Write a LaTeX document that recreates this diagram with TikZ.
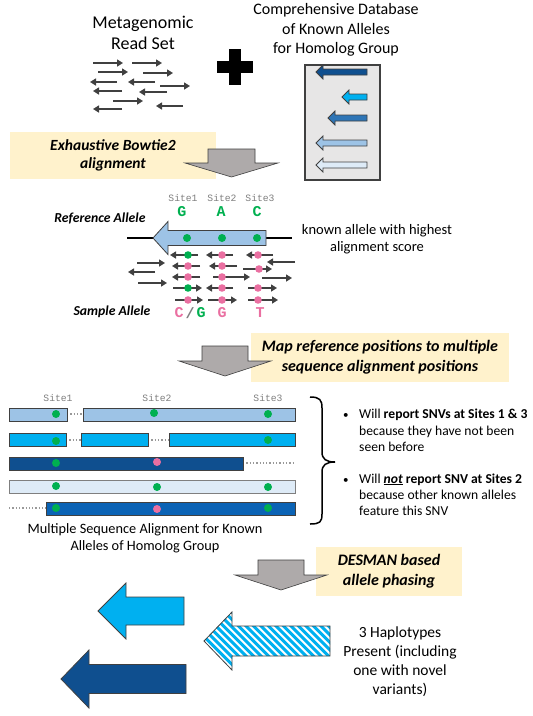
\documentclass[tikz,border=0pt]{standalone}
\usepackage{fontspec}
\setmainfont{Carlito}
\newfontfamily\monofont{Liberation Mono}
\usetikzlibrary{arrows.meta}
\definecolor{dkblue}{HTML}{0F4F8F}
\definecolor{cyanb}{HTML}{00B0F0}
\definecolor{midblue}{HTML}{2E75B6}
\definecolor{ltblue}{HTML}{9DC3E6}
\definecolor{paleblue}{HTML}{DEEBF7}
\definecolor{barblue}{HTML}{0B63B5}
\definecolor{snvgreen}{HTML}{00B050}
\definecolor{snvpink}{HTML}{EA6FA1}
\definecolor{yboxc}{HTML}{FFF2CC}
\definecolor{grayarrow}{HTML}{AEAAAA}
\definecolor{readgray}{HTML}{404040}
\definecolor{sitegray}{HTML}{7F7F7F}
\definecolor{dbgray}{HTML}{E7E6E6}
% left-pointing block arrow: tipx, y, headbase x, tail x, body half, head half, style
\newcommand\lblock[7]{\draw[#7] (#1,#2) -- (#3,#2-#6) -- (#3,#2-#5) -- (#4,#2-#5) -- (#4,#2+#5) -- (#3,#2+#5) -- (#3,#2+#6) -- cycle;}
% down-pointing block arrow: cx, top, headbase, tip, shaft half, head half
\newcommand\dblock[6]{\draw[grayblock] (#1-#5,#2) -- (#1+#5,#2) -- (#1+#5,#3) -- (#1+#6,#3) -- (#1,#4) -- (#1-#6,#3) -- (#1-#5,#3) -- cycle;}
\tikzset{
  read/.style={draw=readgray, line width=1.8pt, -{Triangle[length=6pt,width=7pt]}},
  grayblock/.style={fill=grayarrow, draw=readgray, line width=0.6pt},
  dbarrow/.style={draw=readgray, line width=0.8pt},
  yellowbox/.style={fill=yboxc, inner sep=0pt, align=center, font=\fontsize{15.5}{17.5}\selectfont\bfseries\itshape},
  bar/.style={draw=readgray, line width=0.7pt},
  gapline/.style={draw=sitegray!80, line width=1.3pt, dotted},
  sitelbl/.style={font=\fontsize{9.7}{11}\selectfont\monofont, text=sitegray, inner sep=0pt},
  base/.style={font=\fontsize{15}{17}\selectfont\monofont\bfseries, inner sep=0pt},
  bul/.style={anchor=base west, inner sep=0pt, font=\fontsize{13.6}{16}\selectfont},
}
\begin{document}
\begin{tikzpicture}[x=1pt,y=-1pt]
\useasboundingbox (0,0) rectangle (533,716);
\fill[white] (0,0) rectangle (533,716);

% ---------- top ----------
\node[font=\fontsize{18}{21.7}\selectfont, align=center, inner sep=0pt] (meta) at (143,33) {Metagenomic\\Read Set};
\node[font=\fontsize{16}{19.5}\selectfont, align=center, inner sep=0pt] (dbtitle) at (336,30) {Comprehensive Database\\of Known Alleles\\for Homolog Group};

% plus sign
\fill (217,61) rectangle (253,73);
\fill (229,49) rectangle (241,85);

% reads
\draw[read] (93,63) -- (123,63);
\draw[read] (132,63) -- (162,63);
\draw[read] (98,72) -- (128,72);
\draw[read] (143,73) -- (173,73);
\draw[read] (117,82) -- (90,82);
\draw[read] (155,82) -- (128,82);
\draw[read] (160,86) -- (190,86);
\draw[read] (122,91) -- (93,91);
\draw[read] (167,92) -- (139,92);
\draw[read] (113,101) -- (143,101);
\draw[read] (183,106) -- (156,106);
\draw[read] (122,109) -- (93,109);

% database box
\draw[fill=dbgray, draw=readgray, line width=1.2pt] (305,65) rectangle (380,180);
\lblock{316}{72}{323}{367}{3}{7}{dbarrow, fill=dkblue}
\lblock{342}{97}{349}{367}{3}{7}{dbarrow, fill=cyanb}
\lblock{328}{118}{335}{367}{3}{7}{dbarrow, fill=midblue}
\lblock{316}{143}{323}{367}{3}{7}{dbarrow, fill=ltblue}
\lblock{316}{165}{323}{367}{3}{7}{dbarrow, fill=paleblue}

% step 1
\node[yellowbox, minimum width=206pt, minimum height=47pt] (bowtie) at (113,155.5) {Exhaustive Bowtie2\\alignment};
\dblock{231.5}{149}{163}{177}{23.5}{46.5}

% ---------- alignment of reads ----------
\node[font=\fontsize{13.7}{16}\selectfont\bfseries\itshape, inner sep=0pt] (reflbl) at (100,218) {Reference Allele};
\node[font=\fontsize{13.7}{16}\selectfont\bfseries\itshape, inner sep=0pt] (samplbl) at (112,312) {Sample Allele};

\node[sitelbl] (s1) at (183,198) {Site1};
\node[sitelbl] (s2) at (222,198) {Site2};
\node[sitelbl] (s3) at (260,198) {Site3};
\node[base, text=snvgreen] (rg) at (182,212) {G};
\node[base, text=snvgreen] (ra) at (221,212) {A};
\node[base, text=snvgreen] (rc) at (257,212) {C};

\draw[line width=2pt] (127,238) -- (153,238);
\draw[line width=2pt] (266,238) -- (292,238);
\lblock{153}{238}{168}{266}{7.5}{16.5}{draw=readgray, line width=0.8pt, fill=ltblue}
\fill[snvgreen] (187,238) circle (4);
\fill[snvgreen] (222,238) circle (4);
\fill[snvgreen] (257,238) circle (4);

\node[font=\fontsize{14.5}{17}\selectfont, align=center, inner sep=0pt] (known) at (377,239) {known allele with highest\\alignment score};

% sample reads
\draw[read] (198,255) -- (170,255); \fill[snvgreen] (188,255) circle (3.8);
\draw[read] (233,255) -- (206,255); \fill[snvpink] (222,255) circle (3.8);
\draw[read] (273,255) -- (246,255); \fill[snvpink] (258,255) circle (3.8);
\draw[read] (295,262) -- (267,262);
\draw[read] (200,266) -- (172,266); \fill[snvpink] (188,266) circle (3.8);
\draw[read] (237,266) -- (209,266); \fill[snvpink] (222,266) circle (3.8);
\draw[read] (243,269) -- (272,269); \fill[snvpink] (259,269) circle (3.8);
\draw[read] (200,277) -- (172,277); \fill[snvpink] (188,277) circle (3.8);
\draw[read] (213,277) -- (250,277); \fill[snvpink] (222,277) circle (3.8);
\draw[read] (262,278) -- (292,278);
\draw[read] (173,288) -- (202,288); \fill[snvgreen] (188,288) circle (3.8);
\draw[read] (233,288) -- (206,288); \fill[snvpink] (222,288) circle (3.8);
\draw[read] (248,288) -- (277,288); \fill[snvpink] (258,288) circle (3.8);
\draw[read] (175,300) -- (203,300); \fill[snvpink] (188,300) circle (3.8);
\draw[read] (208,300) -- (237,300); \fill[snvpink] (222,300) circle (3.8);
\draw[read] (248,300) -- (278,300); \fill[snvpink] (258,300) circle (3.8);
\draw[read] (137,263) -- (165,263);
\draw[read] (155,272) -- (128,272);
\draw[read] (138,283) -- (167,283);

\node[base, text=snvpink] (sc) at (179,313) {C};
\node[base, text=sitegray] (sslash) at (190,313) {/};
\node[base, text=snvgreen] (sg1) at (201,313) {G};
\node[base, text=snvpink] (sg2) at (222,313) {G};
\node[base, text=snvpink] (st) at (260,313) {T};

% step 2
\node[yellowbox, font=\fontsize{16}{20}\selectfont\bfseries\itshape, minimum width=258pt, minimum height=49pt] (mapbox) at (380,357.5) {Map reference positions to multiple\\sequence alignment positions};
\dblock{225}{346}{361}{376}{23}{46}

% ---------- MSA ----------
\node[sitelbl] (m1) at (58,398) {Site1};
\node[sitelbl] (m2) at (157,398) {Site2};
\node[sitelbl] (m3) at (268,398) {Site3};

% bar 1
\draw[gapline] (67,414) -- (83,414);
\draw[bar, fill=ltblue] (9,408) rectangle (67,421);
\draw[bar, fill=ltblue] (83,408) rectangle (295,421);
\fill[snvgreen] (56,414) circle (4);
\fill[snvgreen] (154,413) circle (4);
\fill[snvgreen] (268,414) circle (4);
% bar 2
\draw[gapline] (66,440) -- (81,440);
\draw[gapline] (148,440) -- (169,440);
\draw[bar, fill=cyanb] (9,433) rectangle (66,446);
\draw[bar, fill=cyanb] (81,433) rectangle (148,446);
\draw[bar, fill=cyanb] (169,433) rectangle (295,446);
\fill[snvgreen] (56,441) circle (4);
\fill[snvgreen] (268,440) circle (4);
% bar 3
\draw[gapline] (243,463) -- (295,463);
\draw[bar, fill=dkblue] (9,457) rectangle (243,470);
\fill[snvgreen] (56,463) circle (4);
\fill[snvpink] (157,462) circle (4);
% bar 4
\draw[bar, fill=paleblue, draw=sitegray] (9,480) rectangle (295,493);
\fill[snvgreen] (56,486) circle (4);
\fill[snvgreen] (157,487) circle (4);
\fill[snvgreen] (268,487) circle (4);
% bar 5
\draw[gapline] (9,508) -- (46,508);
\draw[bar, fill=barblue] (46,502) rectangle (295,515);
\fill[snvgreen] (56,508) circle (4);
\fill[snvpink] (157,509) circle (4);
\fill[snvgreen] (268,508) circle (4);

\node[font=\fontsize{14.3}{17}\selectfont, align=center, inner sep=0pt] (msacap) at (145,538.5) {Multiple Sequence Alignment for Known\\Alleles of Homolog Group};

% brace
\draw[line width=1.5pt] (310,397) .. controls (320,397) and (322,400) .. (322,408) -- (322,452)
  .. controls (322,459) and (326,462) .. (335,462)
  .. controls (326,462) and (322,465) .. (322,472) -- (322,514)
  .. controls (322,522) and (320,524) .. (310,524);

% bullets
\node[bul, font=\fontsize{11}{16}\selectfont] (bu1) at (343,418.5) {•};
\node[bul] (l1) at (359,418.5) {Will \textbf{report SNVs at Sites 1 \& 3}};
\node[bul] (l2) at (359,435) {because they have not been};
\node[bul] (l3) at (359,451.5) {seen before};
\node[bul, font=\fontsize{11}{16}\selectfont] (bu2) at (343,483) {•};
\node[bul] (l4) at (359,483) {Will \textbf{\textit{\underline{not}}} \textbf{report SNV at Sites 2}};
\node[bul] (l5) at (359,499) {because other known alleles};
\node[bul] (l6) at (359,515) {feature this SNV};

% step 3
\node[yellowbox, font=\fontsize{16}{20}\selectfont\bfseries\itshape, minimum width=146pt, minimum height=49pt] (desman) at (389,571.5) {DESMAN based\\allele phasing};
\dblock{281}{560}{575}{590}{23}{46}

% ---------- haplotypes ----------
\lblock{98}{611}{126}{184}{14}{28}{draw=readgray, line width=0.8pt, fill=cyanb}
\lblock{61}{679}{89}{186}{14.5}{29}{draw=readgray, line width=0.8pt, fill=dkblue}
\begin{scope}
  \clip (204,641) -- (232,612) -- (232,626) -- (330,626) -- (330,656) -- (232,656) -- (232,670) -- cycle;
  \fill[white] (195,600) rectangle (340,680);
  \foreach \k in {0,...,28} { \draw[cyanb, line width=3pt] (130+\k*7.5,600) -- (210+\k*7.5,680); }
\end{scope}
\lblock{204}{641}{232}{330}{15}{29}{draw=readgray, line width=0.8pt}

\node[font=\fontsize{15.5}{19}\selectfont, align=center, inner sep=0pt] (haps) at (400,661.5) {3 Haplotypes\\Present (including\\one with novel\\variants)};
\end{tikzpicture}
\end{document}
